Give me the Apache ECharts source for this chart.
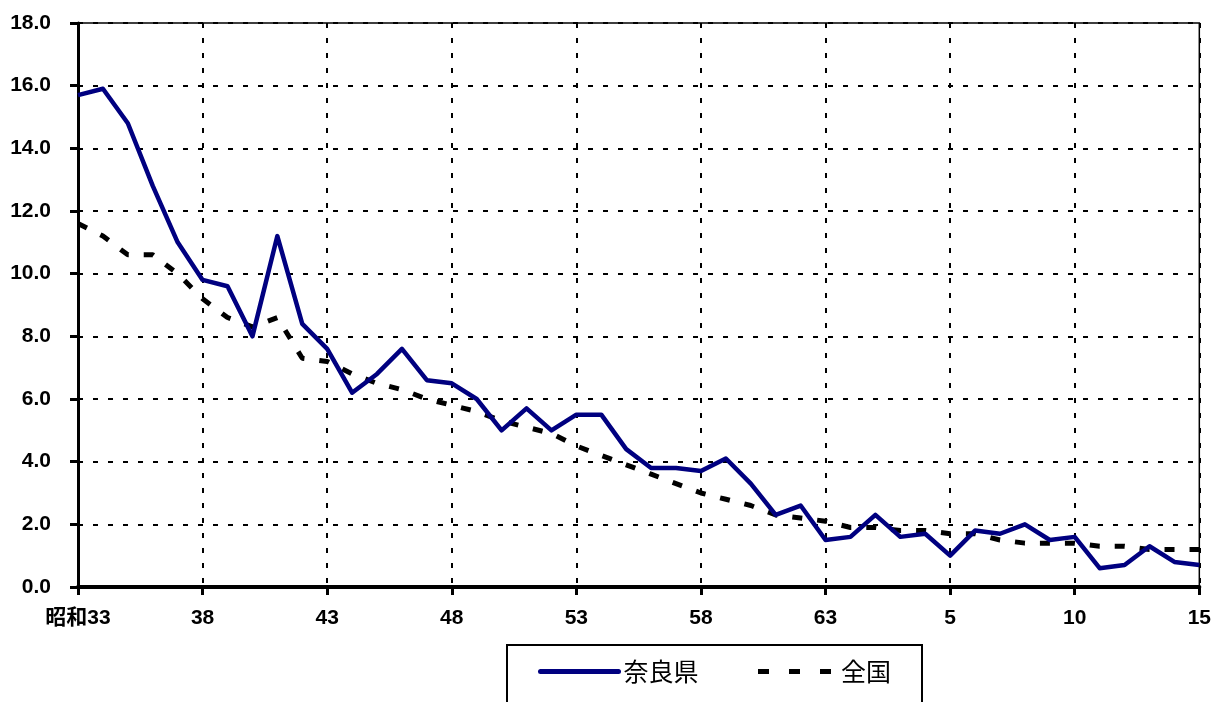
<!DOCTYPE html>
<html>
<head>
<meta charset="utf-8">
<script src="https://cdn.jsdelivr.net/npm/echarts@6/dist/echarts.min.js"></script>
<style>
html,body{margin:0;padding:0;background:#fff;}
#chart{width:1214px;height:702px;}
</style>
</head>
<body>
<div id="chart"></div>
<script>
// Years: 昭和33 … 昭和63, 平成1 … 平成15
const categoryLabels = ['昭和33','34','35','36','37','38','39','40','41','42','43','44','45','46','47','48','49','50','51','52','53','54','55','56','57','58','59','60','61','62','63',
  '1','2','3','4','5','6','7','8','9','10','11','12','13','14','15'];
const naraValues = [15.7,15.9,14.8,12.8,11.0,9.8,9.6,8.0,11.2,8.4,7.6,6.2,6.8,7.6,6.6,6.5,6.0,5.0,5.7,5.0,5.5,5.5,4.4,3.8,3.8,3.7,4.1,3.3,2.3,2.6,1.5,1.6,2.3,1.6,1.7,1.0,1.8,1.7,2.0,1.5,1.6,0.6,0.7,1.3,0.8,0.7];
const nationalValues = [11.6,11.2,10.6,10.6,10.0,9.2,8.6,8.3,8.6,7.3,7.2,6.8,6.5,6.3,6.0,5.8,5.6,5.3,5.1,4.9,4.5,4.2,3.9,3.6,3.3,3.0,2.8,2.6,2.3,2.2,2.1,1.9,1.9,1.8,1.8,1.7,1.7,1.5,1.4,1.4,1.4,1.3,1.3,1.2,1.2,1.2];
const seriesNames = ['奈良県','全国'];
const yMin = 0, yMax = 18, yInterval = 2;

const labelFont = "'Liberation Sans', 'Noto Sans CJK JP', sans-serif";
const chart = echarts.init(document.getElementById('chart'), null, {renderer:'canvas'});
chart.setOption({
  animation:false,
  backgroundColor:'#fff',
  grid:{left:78,right:13,top:23,bottom:115,show:true,borderColor:'#000',borderWidth:1.5,backgroundColor:'transparent'},
  legend:{
    show:true,
    orient:'horizontal',
    left:507, top:645,
    padding:[14,31,22,31],
    borderColor:'#000', borderWidth:2,
    itemWidth:78, itemHeight:14, itemGap:57,
    textStyle:{fontSize:25,color:'#000',fontFamily:"'Noto Sans CJK JP', sans-serif"},
    data:[
      {name:seriesNames[0], itemStyle:{opacity:0}, lineStyle:{width:5,color:'#000080',type:'solid',cap:'round'}},
      {name:seriesNames[1], itemStyle:{opacity:0}, lineStyle:{width:5,color:'#000',type:[11,20]}}
    ]
  },
  xAxis:{
    type:'category',
    data:categoryLabels,
    boundaryGap:false,
    axisLine:{lineStyle:{color:'#000',width:4}},
    axisTick:{interval:4,length:8,lineStyle:{color:'#000',width:3}},
    axisLabel:{interval:4,margin:21,fontSize:21,fontWeight:'bold',color:'#000',fontFamily:labelFont},
    splitLine:{show:true,interval:4,lineStyle:{color:'#000',width:2,type:[5,10]}}
  },
  yAxis:{
    type:'value',min:yMin,max:yMax,interval:yInterval,
    axisLine:{show:true,lineStyle:{color:'#000',width:3}},
    axisTick:{show:true,length:8,lineStyle:{color:'#000',width:3}},
    axisLabel:{margin:27,fontSize:21,fontWeight:'bold',color:'#000',fontFamily:labelFont,formatter:v=>v.toFixed(1)},
    splitLine:{show:true,lineStyle:{color:'#000',width:2,type:[5,10]}}
  },
  series:[
    {name:seriesNames[0],type:'line',data:naraValues,symbol:'none',z:3,
     lineStyle:{color:'#000080',width:4.5,join:'round'},itemStyle:{color:'#000080'}},
    {name:seriesNames[1],type:'line',data:nationalValues,symbol:'none',z:2,
     lineStyle:{color:'#000',width:5,type:[10,15]},itemStyle:{color:'#000'}}
  ]
});
</script>
</body>
</html>
